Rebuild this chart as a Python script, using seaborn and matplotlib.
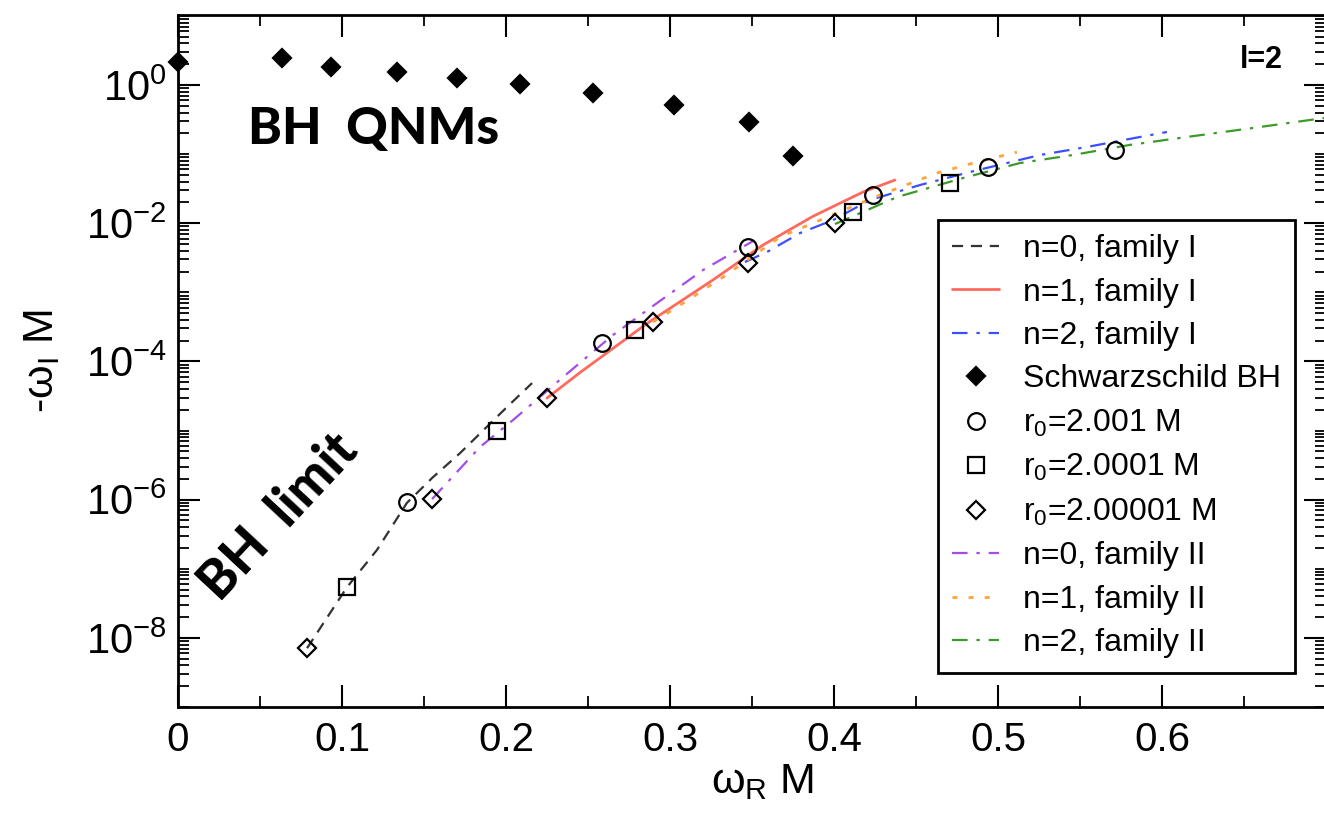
import numpy as np
import pandas as pd
import matplotlib
matplotlib.use("Agg")
import matplotlib.pyplot as plt
import matplotlib.ticker as mticker
import seaborn as sns

# ---------------- data ----------------
bh_x = [0.0, 0.0634, 0.0933, 0.1335, 0.1701, 0.2085, 0.2530, 0.3024, 0.3482, 0.3750]
bh_y = [2.15, 2.46, 1.82, 1.54, 1.26, 1.03, 0.766, 0.514, 0.291, 0.094]

r1_x = [0.1396, 0.2585, 0.3476, 0.4238, 0.4939, 0.5713]          # r0=2.001 M
r1_y = [9.2e-7, 1.85e-4, 4.5e-3, 2.56e-2, 6.5e-2, 0.115]
r2_x = [0.103, 0.1945, 0.2787, 0.4116, 0.4707]                   # r0=2.0001 M
r2_y = [5.4e-8, 9.8e-6, 2.85e-4, 1.45e-2, 3.8e-2]
r3_x = [0.0787, 0.1549, 0.225, 0.2896, 0.3476, 0.4006]           # r0=2.00001 M
r3_y = [7.1e-9, 1.02e-6, 2.95e-5, 3.7e-4, 2.65e-3, 1.0e-2]

n0I_x = [0.0787, 0.103, 0.1213, 0.1396, 0.1555, 0.172, 0.2006, 0.2159]
n0I_y = [7.1e-9, 5.4e-8, 1.87e-7, 9.0e-7, 2.12e-6, 4.72e-6, 2.19e-5, 4.86e-5]
n1I_x = [0.225, 0.2451, 0.286, 0.3262, 0.3567, 0.3872, 0.4177, 0.4372]
n1I_y = [2.95e-5, 6.9e-5, 3.55e-4, 1.51e-3, 4.84e-3, 1.26e-2, 2.83e-2, 4.22e-2]
n2I_x = [0.3457, 0.3591, 0.3793, 0.3994, 0.422, 0.4524, 0.4829, 0.5256, 0.5543, 0.5866, 0.603]
n2I_y = [2.75e-3, 3.83e-3, 7.21e-3, 1.11e-2, 2.17e-2, 3.57e-2, 5.51e-2, 9.71e-2, 0.127, 0.177, 0.209]

n0II_x = [0.1549, 0.1841, 0.2043, 0.2348, 0.2652, 0.2921, 0.3201, 0.3506]
n0II_y = [1.02e-6, 5.77e-6, 1.42e-5, 5.94e-5, 2.41e-4, 7.0e-4, 2.10e-3, 5.52e-3]
n1II_x = [0.2896, 0.3043, 0.3323, 0.3671, 0.3915, 0.428, 0.4628, 0.4872, 0.5116]
n1II_y = [3.72e-4, 6.12e-4, 1.66e-3, 6.31e-3, 1.11e-2, 2.56e-2, 5.32e-2, 7.69e-2, 0.107]
n2II_x = [0.4006, 0.4384, 0.4787, 0.5134, 0.5457, 0.5805, 0.6152, 0.6555, 0.6988]
n2II_y = [9.73e-3, 2.39e-2, 4.51e-2, 7.43e-2, 9.71e-2, 0.136, 0.177, 0.239, 0.333]

x_ticks = [0, 0.1, 0.2, 0.3, 0.4, 0.5, 0.6]
y_major = [1e-8, 1e-6, 1e-4, 1e-2, 1e0]

# ---------------- style ----------------
sns.set_theme(style="ticks")
sans = ["Liberation Sans", "DejaVu Sans"]
plt.rcParams["font.family"] = sans
plt.rcParams["mathtext.fontset"] = "custom"
plt.rcParams["mathtext.rm"] = "Liberation Sans"
plt.rcParams["mathtext.it"] = "Liberation Sans"
plt.rcParams["mathtext.default"] = "regular"
plt.rcParams["axes.unicode_minus"] = False

fig = plt.figure(figsize=(13.24, 8.14), dpi=100)
ax = fig.add_axes([178 / 1324, 1 - 707 / 814, 1148 / 1324, 692 / 814])

def line(x, y, color, ls, label, lw=1.6):
    sns.lineplot(x=x, y=y, ax=ax, color=color, linestyle=ls, linewidth=lw,
                 estimator=None, sort=False, label=label, zorder=2)

def marks(x, y, marker, ms, label, filled=False):
    sns.lineplot(x=x, y=y, ax=ax, linestyle="", marker=marker, markersize=ms,
                 markerfacecolor="black" if filled else "none",
                 markeredgecolor="black", markeredgewidth=1.6, color="black",
                 estimator=None, sort=False, label=label, zorder=3, clip_on=False)

dash_dot = (0, (7, 4, 1.5, 4))
line(n0I_x, n0I_y, "#333333", (0, (5, 3.5)), "n=0, family I")
line(n1I_x, n1I_y, "#ff6a5e", "-", "n=1, family I", lw=2.0)
line(n2I_x, n2I_y, "#3b4fff", dash_dot, "n=2, family I")
line(n0II_x, n0II_y, "#a64ce6", dash_dot, "n=0, family II")
line(n1II_x, n1II_y, "#ffa33a", (0, (1.8, 4)), "n=1, family II", lw=2.0)
line(n2II_x, n2II_y, "#3d9a2a", dash_dot, "n=2, family II")

marks(bh_x, bh_y, "D", 9, "Schwarzschild BH", filled=True)
marks(r1_x, r1_y, "o", 12, r"r$_0$=2.001 M")
marks(r2_x, r2_y, "s", 11, r"r$_0$=2.0001 M")
marks(r3_x, r3_y, "D", 9.5, r"r$_0$=2.00001 M")

# ---------------- axes ----------------
ax.set_yscale("log")
ax.set_xlim(0, 0.7)
ax.set_ylim(1e-9, 10 ** 1.013)
ax.xaxis.set_major_locator(mticker.FixedLocator(x_ticks))
ax.xaxis.set_minor_locator(mticker.MultipleLocator(0.05))
ax.xaxis.set_major_formatter(mticker.FuncFormatter(lambda v, p: "0" if v == 0 else f"{v:.1f}"))
ax.yaxis.set_major_locator(mticker.FixedLocator(y_major))
ax.yaxis.set_major_formatter(mticker.LogFormatterSciNotation())
ax.yaxis.set_minor_locator(mticker.LogLocator(base=10, subs=np.arange(1, 10), numticks=50))
ax.yaxis.set_minor_formatter(mticker.NullFormatter())

ax.tick_params(which="both", direction="in", top=True, right=True, color="black")
ax.tick_params(which="major", length=16, width=1.5)
ax.tick_params(which="minor", length=8, width=1.3)
ax.tick_params(axis="x", which="major", labelsize=29, pad=10)
ax.tick_params(axis="y", which="major", labelsize=30, pad=8)
for t in ax.get_xticklabels() + ax.get_yticklabels():
    t.set_color("black")
for s in ax.spines.values():
    s.set_linewidth(2.0)
    s.set_color("black")
    s.set_visible(True)

ax.set_xlabel(r"ω$_R$ M", fontsize=31, color="black")
ax.set_ylabel(r"-ω$_I$ M", fontsize=31, color="black")
ax.xaxis.set_label_coords(0.509, -0.08)
ax.yaxis.set_label_coords(-0.101, 0.5)

# ---------------- annotations ----------------
ax.text(0.061, 0.834, "BH  QNMs", transform=ax.transAxes, fontsize=37,
        family=["Lato", "DejaVu Sans"], weight="black", ha="left", va="center", color="black")
ax.text(0.088, 0.275, "BH  limit", transform=ax.transAxes, fontsize=38,
        family=["Lato", "DejaVu Sans"], weight="black", ha="center", va="center",
        rotation=47, rotation_mode="anchor", color="black")
ax.text(0.944, 0.935, "l=2", transform=ax.transAxes, fontsize=22,
        family=sans, weight="bold", ha="center", va="center", color="black")

# ---------------- legend ----------------
order = ["n=0, family I", "n=1, family I", "n=2, family I", "Schwarzschild BH",
         r"r$_0$=2.001 M", r"r$_0$=2.0001 M", r"r$_0$=2.00001 M",
         "n=0, family II", "n=1, family II", "n=2, family II"]
h, l = ax.get_legend_handles_labels()
hd = dict(zip(l, h))
leg = ax.legend([hd[k] for k in order], order, loc="upper left",
                bbox_to_anchor=(0.662, 0.704), frameon=True, fancybox=False,
                framealpha=1, edgecolor="black",
                prop={"family": sans, "size": 23},
                handlelength=1.45, handletextpad=0.75, labelspacing=0.42,
                borderpad=0.45, borderaxespad=0)
leg.get_frame().set_linewidth(2.0)
for t in leg.get_texts():
    t.set_color("black")

fig.savefig("out.png", dpi=100)
